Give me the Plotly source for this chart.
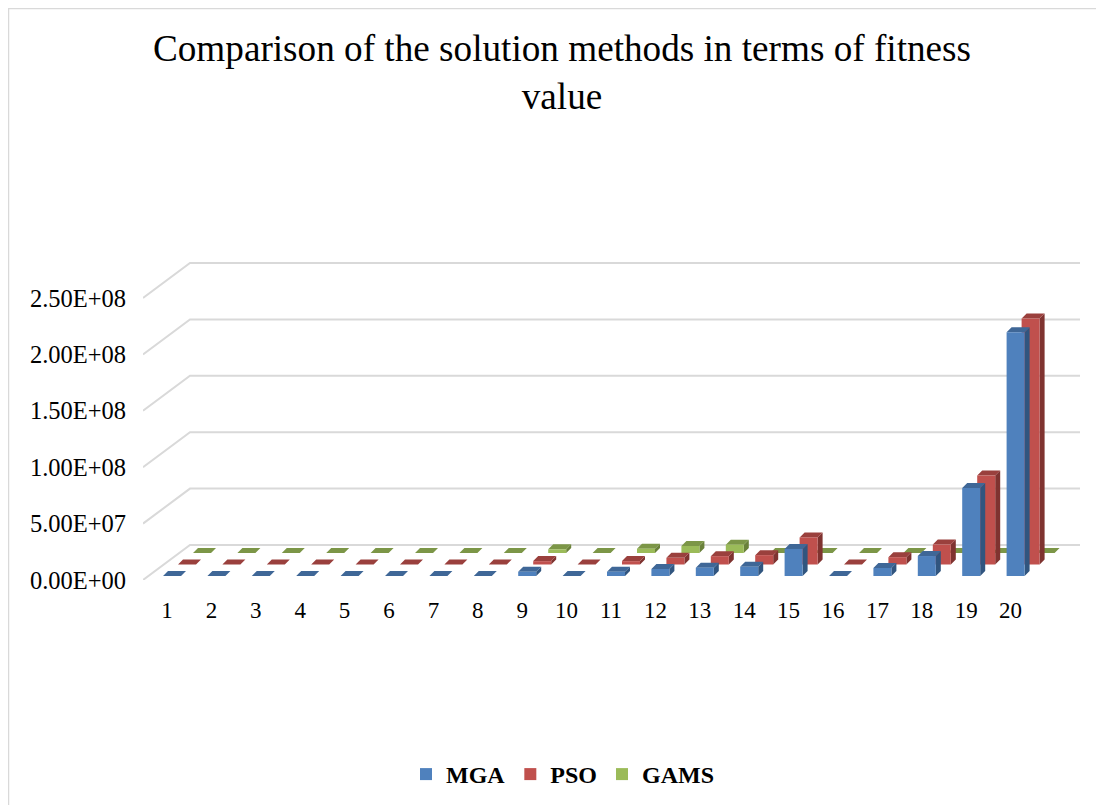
import plotly.graph_objects as go

categories = list(range(1, 21))
mga = [0, 0, 0, 0, 0, 0, 0, 0, 3.8e6, 0, 3.8e6, 6.2e6, 7.4e6, 8.2e6, 2.4e7, 0, 7.1e6, 1.77e7, 7.8e7, 2.16e8]
pso = [0, 0, 0, 0, 0, 0, 0, 0, 3.0e6, 0, 3.0e6, 5.9e6, 7.4e6, 8.3e6, 2.4e7, 0, 6.5e6, 1.77e7, 7.9e7, 2.18e8]
gams = [0, 0, 0, 0, 0, 0, 0, 0, 3.3e6, 0, 3.8e6, 6.2e6, 7.4e6, 0, 0, 0, 0, 0, 0, 0]
series_names = ["MGA", "PSO", "GAMS"]
front_colors = ["#4f81bd", "#c0504d", "#9bbb59"]
side_colors = ["#31557f", "#7f3330", "#6a813a"]
top_colors = ["#3f6797", "#9a403d", "#7c9647"]
tick_values = [0, 5e7, 1e8, 1.5e8, 2e8, 2.5e8]
tick_labels = ["0.00E+00", "5.00E+07", "1.00E+08", "1.50E+08", "2.00E+08", "2.50E+08"]

# The page adds an 8 px body margin, so canvas pixels are page pixels minus 8.
PAGE = 8
W, H = 1104 - PAGE, 805 - PAGE
PX_PER_CAT = 44.4
PX_PER_VAL = 56.4 / 5e7
LEFT, RIGHT, TOP, FLOOR = 143 - PAGE, 1085 - PAGE, 250 - PAGE, 580 - PAGE
cx = lambda px: px / PX_PER_CAT
cy = lambda px: px / PX_PER_VAL
x_at_left = 1 + (143 - 167) / PX_PER_CAT
x_at_right = 1 + (1085 - 167) / PX_PER_CAT
y_top = cy(FLOOR - TOP)

BAR_W = cx(18)
DEPTH_X, DEPTH_Y = cx(5), cy(5)
series_dx = [cx(-4), cx(11), cx(26)]     # left-edge shift of each series from the category
series_dy = [cy(4), cy(15.5), cy(27)]    # floor rise of each series
WALL_DX, WALL_DY = cx(47), cy(35)

fig = go.Figure()

gx, gy = [], []
wall_end = x_at_left + cx(1080 - 143)
for v in tick_values:
    gx += [x_at_left, x_at_left + WALL_DX, wall_end, None]
    gy += [v, v + WALL_DY, v + WALL_DY, None]
fig.add_trace(go.Scatter(x=gx, y=gy, mode="lines", line=dict(color="#d9d9d9", width=2),
                         hoverinfo="skip", showlegend=False, zorder=0))

values = [mga, pso, gams]
for s in [2, 1, 0]:
    vals = values[s]
    lefts = [c + series_dx[s] for c in categories]
    base = series_dy[s]
    z = 10 - 3 * s
    sx, sy, tx, ty = [], [], [], []
    for l, v in zip(lefts, vals):
        r = l + BAR_W
        sx += [r, r + DEPTH_X, r + DEPTH_X, r, r, None]
        sy += [base, base + DEPTH_Y, base + v + DEPTH_Y, base + v, base, None]
        tx += [l, r, r + DEPTH_X, l + DEPTH_X, l, None]
        ty += [base + v, base + v, base + v + DEPTH_Y, base + v + DEPTH_Y, base + v, None]
    fig.add_trace(go.Scatter(x=sx, y=sy, mode="lines", fill="toself", fillcolor=side_colors[s],
                             line=dict(width=0), hoverinfo="skip", showlegend=False, zorder=z))
    fig.add_trace(go.Scatter(x=tx, y=ty, mode="lines", fill="toself", fillcolor=top_colors[s],
                             line=dict(width=0), hoverinfo="skip", showlegend=False, zorder=z))
    fig.add_trace(go.Bar(x=[l + BAR_W / 2 for l in lefts], y=vals, base=base, width=BAR_W,
                         name="<b>" + series_names[s] + "</b>",
                         marker=dict(color=front_colors[s], line=dict(width=0)),
                         zorder=z + 1, legendrank=s + 1))

fig.update_layout(
    width=W, height=H, autosize=False, barmode="overlay",
    paper_bgcolor="white", plot_bgcolor="rgba(0,0,0,0)",
    margin=dict(l=LEFT, r=W - RIGHT, t=TOP, b=H - FLOOR, pad=0),
    font=dict(family="Liberation Serif", color="#000000"),
    title=dict(text="Comparison of the solution methods in terms of fitness<br>value",
               x=(562 - PAGE) / W, xanchor="center", y=1 - 52.5 / H, yanchor="top",
               font=dict(size=37.2, family="Liberation Serif", color="#000000")),
    xaxis=dict(range=[x_at_left, x_at_right], tickmode="array", tickvals=categories,
               ticktext=[str(c) for c in categories], showgrid=False, zeroline=False,
               showline=False, ticks="outside", ticklen=9, tickcolor="rgba(0,0,0,0)",
               tickfont=dict(size=23, family="Liberation Serif", color="#000000")),
    yaxis=dict(range=[0, y_top], tickmode="array", tickvals=tick_values, ticktext=tick_labels,
               showgrid=False, zeroline=False, showline=False, ticks="outside", ticklen=11,
               tickcolor="rgba(0,0,0,0)",
               tickfont=dict(size=24.5, family="Liberation Serif", color="#000000")),
    legend=dict(orientation="h", x=(563 - PAGE) / W, xanchor="center", y=1 - (752 - PAGE) / H, yanchor="top",
                xref="container", yref="container", traceorder="normal",
                font=dict(size=24, family="Liberation Serif", color="#000000"),
                itemclick=False, itemdoubleclick=False),
    shapes=[dict(type="rect", xref="paper", yref="paper",
                 x0=(0.5 - LEFT) / (RIGHT - LEFT), x1=(W + 10 - LEFT) / (RIGHT - LEFT),
                 y0=(FLOOR - H - 10) / (FLOOR - TOP), y1=(FLOOR - 0.5) / (FLOOR - TOP),
                 line=dict(color="#d9d9d9", width=1.5), layer="below")],
)

fig.write_html("out.html")
